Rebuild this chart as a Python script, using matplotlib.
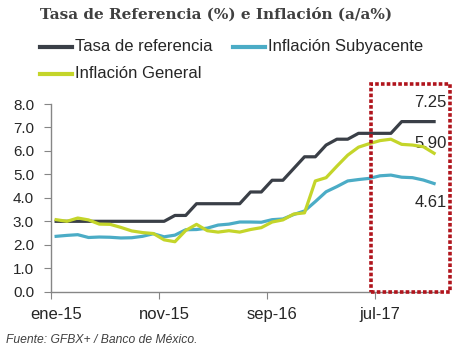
import matplotlib
matplotlib.use("Agg")
import matplotlib.pyplot as plt
from matplotlib.lines import Line2D
from matplotlib.patches import Rectangle

plt.rcParams["font.family"] = ["Liberation Sans", "DejaVu Sans"]

# monthly data, ene-15 .. dic-17
months = list(range(36))
tasa = [3.00] * 11 + [3.25] * 2 + [3.75] * 5 + [4.25] * 2 + [4.75] * 2 + [5.25] + [5.75] * 2 + \
    [6.25] + [6.50] * 2 + [6.75] * 4 + [7.25] * 4
general = [3.07, 3.00, 3.14, 3.06, 2.88, 2.87, 2.74, 2.59, 2.52, 2.48, 2.21, 2.13,
           2.61, 2.87, 2.60, 2.54, 2.60, 2.54, 2.65, 2.73, 2.97, 3.06, 3.31, 3.36,
           4.72, 4.86, 5.35, 5.82, 6.16, 6.31, 6.44, 6.50, 6.28, 6.25, 6.18, 5.90]
subyacente = [2.36, 2.40, 2.43, 2.31, 2.33, 2.32, 2.29, 2.30, 2.36, 2.47, 2.34, 2.41,
              2.64, 2.65, 2.71, 2.84, 2.88, 2.97, 2.97, 2.96, 3.07, 3.10, 3.29, 3.44,
              3.84, 4.26, 4.48, 4.72, 4.78, 4.83, 4.94, 4.97, 4.88, 4.86, 4.76, 4.61]
tick_pos = [0, 10, 20, 30]
tick_labels = ["ene-15", "nov-15", "sep-16", "jul-17"]

c_tasa = "#3A3F47"
c_sub = "#4BACC6"
c_gen = "#C4D52A"
c_axis = "#868686"
c_text = "#262626"

fig = plt.figure(figsize=(4.57, 3.54), dpi=100)
ax = fig.add_axes([0.111, 0.176, 0.8507, 0.5302])

ax.plot(months, tasa, color=c_tasa, lw=2.3, zorder=3)
ax.plot(months, subyacente, color=c_sub, lw=2.3, zorder=2)
ax.plot(months, general, color=c_gen, lw=2.3, zorder=4)

ax.set_xlim(-0.5, 35.5)
ax.set_ylim(0, 8)
ax.set_yticks([0, 1, 2, 3, 4, 5, 6, 7, 8])
ax.set_yticklabels(["%.1f" % v for v in range(9)], fontsize=11, color=c_text)

# ticks between categories, labels on categories
ax.set_xticks([p - 0.5 for p in tick_pos])
ax.set_xticklabels([])
ax.set_xticks(tick_pos, minor=True)
ax.set_xticklabels(tick_labels, minor=True, fontsize=12, color=c_text)
ax.tick_params(axis="x", which="major", length=5, color=c_axis, direction="out")
ax.tick_params(axis="x", which="minor", length=0, pad=11)
ax.tick_params(axis="y", length=5, color=c_axis, pad=7)

for s in ["top", "right"]:
    ax.spines[s].set_visible(False)
for s in ["left", "bottom"]:
    ax.spines[s].set_color(c_axis)
    ax.spines[s].set_linewidth(1)

# end labels
ax.annotate("7.25", (35, tasa[-1]), xytext=(9, 14), textcoords="offset points",
            ha="right", va="center", fontsize=12, color=c_text)
ax.annotate("5.90", (35, general[-1]), xytext=(9, 7), textcoords="offset points",
            ha="right", va="center", fontsize=12, color=c_text)
ax.annotate("4.61", (35, subyacente[-1]), xytext=(9, -14), textcoords="offset points",
            ha="right", va="center", fontsize=12, color=c_text)

# highlight box
W, H = 457, 354
fig.patches.append(Rectangle((371 / W, 1 - 292 / H), 79 / W, 208 / H, transform=fig.transFigure,
                             fill=False, edgecolor="#B0141C", lw=2.6, linestyle=(0, (1, 0.6)),
                             zorder=10))

# title
fig.text(40 / W, 1 - 18.5 / H, "Tasa de Referencia (%) e Inflación (a/a%)",
         family=["DejaVu Serif"], weight="bold", fontsize=11,
         color="#404040", va="baseline")

# legend
leg = [("Tasa de referencia", c_tasa, 40, 46.5), ("Inflación Subyacente", c_sub, 233, 46.5),
       ("Inflación General", c_gen, 40, 74)]
for name, col, x0, y0 in leg:
    fig.add_artist(Line2D([x0 / W, (x0 + 32) / W], [1 - y0 / H, 1 - y0 / H],
                          transform=fig.transFigure, color=col, lw=3))
    fig.text((x0 + 35) / W, 1 - y0 / H, name, fontsize=12, color=c_text, va="center")

fig.text(6 / W, 1 - 343 / H, "Fuente: GFBX+ / Banco de México.", fontsize=8.7,
         style="italic", color="#404040", va="baseline")

fig.savefig("out.png", dpi=100)
